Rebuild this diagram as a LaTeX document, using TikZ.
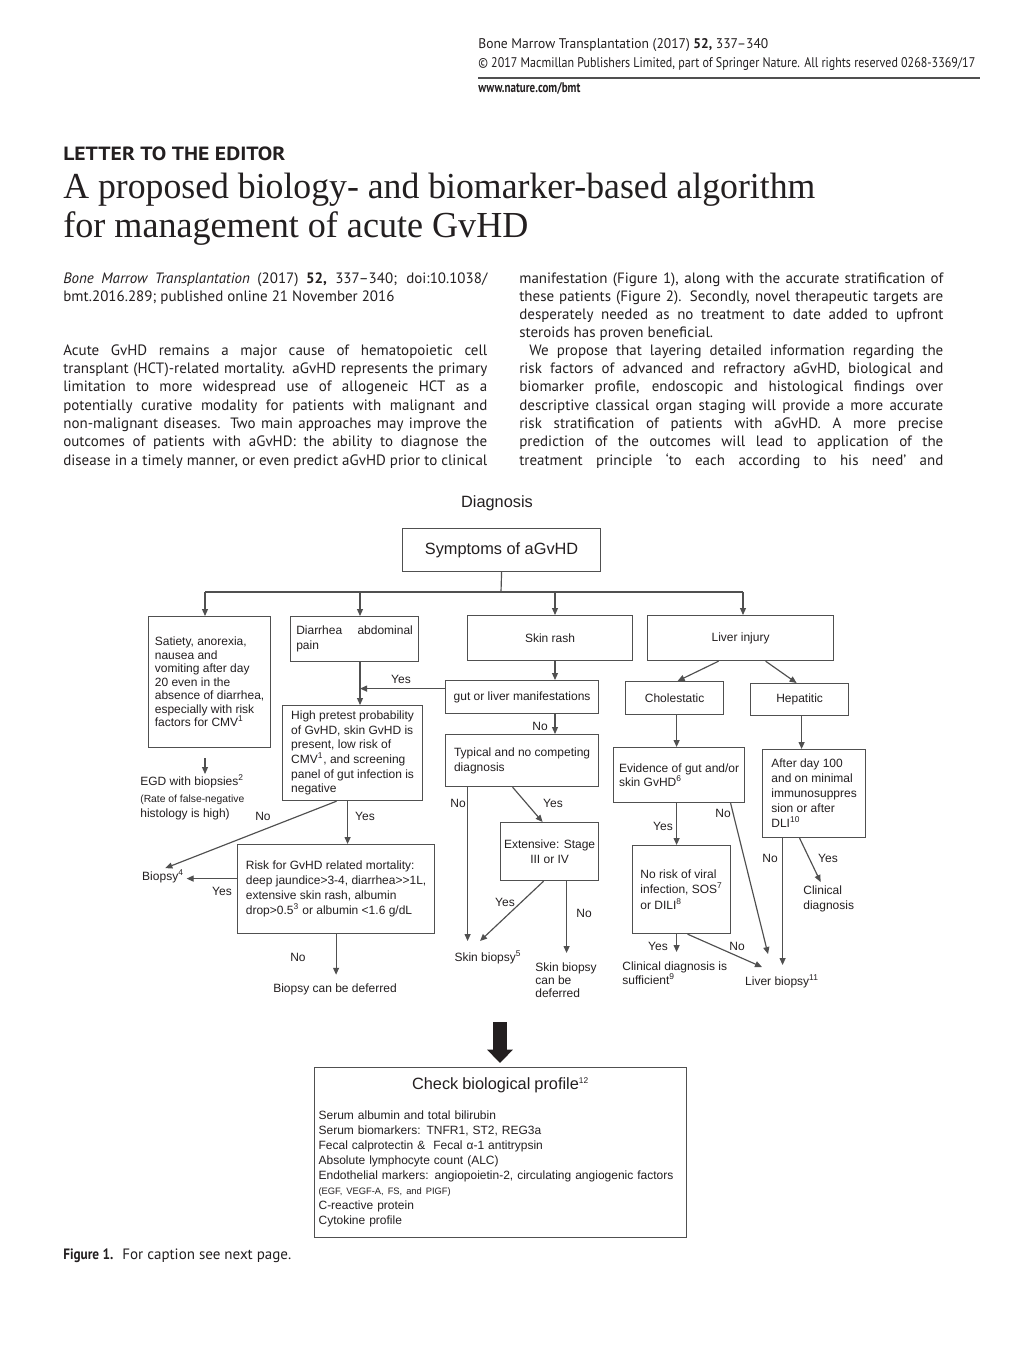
\documentclass[tikz,border=0pt]{standalone}
\usepackage{fontspec}
\setmainfont{Liberation Sans}
\newfontfamily\bodyfont{PT Sans}
\newfontfamily\serifttl{Liberation Serif}
\usepackage{graphicx}
\usetikzlibrary{arrows.meta}
\definecolor{txt}{HTML}{231F20}
\definecolor{ln}{HTML}{505050}
\newsavebox\jb
\newcommand\jline[2]{\sbox\jb{#2}\ifdim\wd\jb>#1\relax\resizebox{#1}{\height}{\usebox\jb}\else\makebox[#1][s]{#2}\fi}
\newcommand\dfont{\fontsize{7.2}{8.8}\selectfont}
\newcommand\myBox[7]{%
  \pgfmathsetlengthmacro\myBW{(#4-#2)*0.6pt}%
  \pgfmathsetlengthmacro\myBH{(#5-#3)*0.6pt}%
  \node[dbox, anchor=north west, minimum width=\myBW, minimum height=\myBH, #6] (#1) at (#2,#3) {#7};}
\newcommand\bln[4]{\node[bl] (#1) at (#2) {\jline{#3}{#4}};}
\begin{document}
\begin{tikzpicture}[x=0.6pt,y=-0.6pt,
  dbox/.style={draw=ln, line width=0.7pt, inner sep=0pt, align=left, font=\dfont, text=txt},
  tx/.style={inner sep=0pt, font=\dfont, text=txt, align=left},
  lbl/.style={inner sep=0pt, font=\dfont, text=txt},
  cn/.style={draw=ln, line width=0.7pt},
  arr/.style={cn, -{Triangle[length=4.2pt,width=3.6pt]}},
  bl/.style={anchor=mid west, inner sep=0pt, font=\bodyfont\fontsize{9}{11}\selectfont, text=txt},
  hd/.style={anchor=base west, inner sep=0pt, text=txt}]
\useasboundingbox (0,0) rectangle (1020,1355);
\fill[white] (0,0) rectangle (1020,1355);

% ---------- header ----------
\node[hd, font=\bodyfont\fontsize{8.4}{9}\selectfont] (h1) at (478,49) {\resizebox{174pt}{\height}{Bone Marrow Transplantation (2017) \textbf{52,} 337–340}};
\node[hd, font=\bodyfont\fontsize{8.4}{9}\selectfont] (h2) at (478,67) {\resizebox{298.2pt}{\height}{© 2017 Macmillan Publishers Limited, part of Springer Nature. All rights reserved 0268-3369/17}};
\draw[line width=1.4pt, color=ln] (478,78) -- (980,78);
\node[hd, font=\bodyfont\bfseries\fontsize{8.4}{9}\selectfont] (h3) at (478,92) {\resizebox{61.2pt}{\height}{www.nature.com/bmt}};

\node[hd, font=\bodyfont\bfseries\fontsize{11.5}{13}\selectfont] (lte) at (63,160) {\resizebox{133.2pt}{\height}{LETTER TO THE EDITOR}};
\node[hd, font=\serifttl\fontsize{22}{26}\selectfont] (t1) at (63,198) {\resizebox{451.2pt}{\height}{A proposed biology- and biomarker-based algorithm}};
\node[hd, font=\serifttl\fontsize{22}{26}\selectfont] (t2) at (63,237) {\resizebox{279pt}{\height}{for management of acute GvHD}};

% ---------- body text ----------
\bln{a1}{63,279}{254.4pt}{\textit{Bone Marrow Transplantation} (2017) \textbf{52,} 337–340; doi:10.1038/}
\node[bl] (a2) at (63,297) {bmt.2016.289; published online 21 November 2016};
\bln{b1}{63,351}{254.4pt}{Acute GvHD remains a major cause of hematopoietic cell}
\bln{b2}{63,369}{254.4pt}{transplant (HCT)-related mortality. aGvHD represents the primary}
\bln{b3}{63,387}{254.4pt}{limitation to more widespread use of allogeneic HCT as a}
\bln{b4}{63,406}{254.4pt}{potentially curative modality for patients with malignant and}
\bln{b5}{63,424}{254.4pt}{non-malignant diseases. Two main approaches may improve the}
\bln{b6}{63,442}{254.4pt}{outcomes of patients with aGvHD: the ability to diagnose the}
\bln{b7}{63,461}{254.4pt}{disease in a timely manner, or even predict aGvHD prior to clinical}

\bln{c1}{519,279}{254.4pt}{manifestation (Figure 1), along with the accurate stratification of}
\bln{c2}{519,297}{254.4pt}{these patients (Figure 2). Secondly, novel therapeutic targets are}
\bln{c3}{519,315}{254.4pt}{desperately needed as no treatment to date added to upfront}
\node[bl] (c4) at (519,333) {steroids has proven beneficial.};
\bln{d1t}{529,351}{248.4pt}{We propose that layering detailed information regarding the}
\bln{d2t}{519,369}{254.4pt}{risk factors of advanced and refractory aGvHD, biological and}
\bln{d3t}{519,387}{254.4pt}{biomarker profile, endoscopic and histological findings over}
\bln{d4t}{519,406}{254.4pt}{descriptive classical organ staging will provide a more accurate}
\bln{d5t}{519,424}{254.4pt}{risk stratification of patients with aGvHD. A more precise}
\bln{d6t}{519,442}{254.4pt}{prediction of the outcomes will lead to application of the}
\bln{d7t}{519,461}{254.4pt}{treatment principle ‘to each according to his need’ and}

% ---------- diagram ----------
\node[lbl, font=\fontsize{9.8}{11}\selectfont] (diag) at (497,503) {Diagnosis};
\myBox{sym}{402}{528}{600}{571}{align=center, font=\fontsize{9.8}{11}\selectfont}{Symptoms of aGvHD}

\myBox{sat}{148}{616}{270}{747}{font=\fontsize{7.2}{8.1}\selectfont}{Satiety, anorexia,\\ nausea and\\ vomiting after day\\ 20 even in the\\ absence of diarrhea,\\ especially with risk\\ factors for CMV\textsuperscript{1}}
\myBox{diar}{290}{616}{418}{661}{}{\makebox[70pt][s]{Diarrhea abdominal}\\ pain}
\myBox{skin}{467}{615}{632}{660}{align=center}{Skin rash}
\myBox{liver}{647}{615}{833}{660}{align=center}{Liver injury}

\coordinate (j) at (501,592);
\coordinate (d1) at (205,592);
\coordinate (d2) at (360,592);
\coordinate (d3) at (555,592);
\coordinate (d4) at (743,592);
\draw[cn] (sym.south) -- (j);
\draw[cn] (d1) -- (d4);
\draw[arr] (d1) -- (d1 |- sat.north);
\draw[arr] (d2) -- (d2 |- diar.north);
\draw[arr] (d3) -- (d3 |- skin.north);
\draw[arr] (d4) -- (d4 |- liver.north);

% left branch
\node[tx, anchor=north west] (egd) at (140,774) {EGD with biopsies\textsuperscript{2}\\[1.5pt] \fontsize{6.2}{8.2}\selectfont (Rate of false-negative\\ histology is high)};
\coordinate (e1) at (205,757);
\draw[arr, shorten <=6pt] (sat.south -| e1) -- (e1 |- egd.north);

\myBox{high}{282}{705}{422}{800}{}{High pretest probability\\ of GvHD, skin GvHD is\\ present, low risk of\\ CMV\textsuperscript{1}, and screening\\ panel of gut infection is\\ negative}
\myBox{gut}{445}{680}{598}{713}{align=center}{gut or liver manifestations}
\myBox{typ}{445}{734}{598}{786}{}{Typical and no competing\\ diagnosis}

\draw[arr] (diar.south -| d2) -- (d2 |- high.north);
\coordinate (gw) at ([yshift=5.1pt]gut.west);
\draw[arr] (gw) -- (gw -| d2);
\node[lbl] (yes1) at (401,679) {Yes};
\draw[arr] (skin.south -| d3) -- (d3 |- gut.north);
\draw[arr] (gut.south -| d3) -- (d3 |- typ.north);
\node[lbl] (no1) at (540,726) {No};

\myBox{risk}{237}{844}{434}{933}{font=\fontsize{7.2}{9}\selectfont}{Risk for GvHD related mortality:\\ deep jaundice>3-4, diarrhea>\kern0pt>\kern0pt1L,\\ extensive skin rash, albumin\\ drop>0.5\textsuperscript{3} or albumin <1.6 g/dL}
\node[lbl] (bio) at (163,876) {Biopsy\textsuperscript{4}};
\node[lbl] (bdef) at (335,989) {Biopsy can be deferred};

\draw[arr, shorten >=1.5pt] ([xshift=-9.6pt]high.south) -- (bio.north);
\node[lbl] (no2) at (263,816) {No};
\coordinate (hs) at ([xshift=-3pt]high.south);
\draw[arr] (hs) -- (hs |- risk.north);
\node[lbl] (yes2) at (365,816) {Yes};
\coordinate (rw) at ([yshift=6.3pt]risk.west);
\draw[arr, shorten >=1.5pt] (rw) -- (rw -| bio.east);
\node[lbl] (yes3) at (222,891) {Yes};
\draw[arr, shorten >=5pt] (risk.south) -- (risk.south |- bdef.north);
\node[lbl] (no3) at (298,957) {No};

% skin branch
\myBox{ext}{500}{822}{598}{880}{align=center}{Extensive: Stage\\ III or IV}
\node[lbl] (skb) at (488,957) {Skin biopsy\textsuperscript{5}};
\node[tx, anchor=north west, font=\fontsize{7.2}{7.8}\selectfont] (sbd) at (535,962) {Skin biopsy\\ can be\\ deferred};

\coordinate (tn) at ([xshift=-32.7pt]typ.south);
\draw[arr, shorten >=5.4pt] (tn) -- (tn |- skb.north);
\node[lbl] (no4) at (458,803) {No};
\draw[arr] ([xshift=-5.7pt]typ.south) -- ([xshift=-4.2pt]ext.north);
\node[lbl] (yes4) at (553,803) {Yes};
\draw[arr] ([xshift=-3.6pt]ext.south) -- ([xshift=-4.8pt,yshift=5.4pt]skb.north);
\node[lbl] (yes5) at (505,902) {Yes};
\coordinate (en) at ([xshift=10.2pt]ext.south);
\draw[arr, shorten >=5.4pt] (en) -- (en |- sbd.north);
\node[lbl] (no5) at (584,913) {No};

% liver branch
\myBox{chol}{625}{681}{723}{714}{align=center}{Cholestatic}
\myBox{hep}{750}{683}{848}{715}{align=center}{Hepatitic}
\myBox{evid}{613}{747}{744}{802}{}{Evidence of gut and/or\\ skin GvHD\textsuperscript{6}}
\myBox{after}{762}{749}{865}{837}{font=\fontsize{7.2}{9}\selectfont}{After day 100\\ and on minimal\\ immunosuppres\\ sion or after\\ DLI\textsuperscript{10}}
\myBox{nr}{632}{845}{730}{933}{font=\fontsize{7.2}{9.2}\selectfont}{No risk of viral\\ infection, SOS\textsuperscript{7}\\ or DILI\textsuperscript{8}}

\draw[arr] ([xshift=-13.2pt]liver.south) -- ([xshift=1.8pt]chol.north);
\draw[arr] ([xshift=15pt]liver.south) -- ([xshift=-1.8pt]hep.north);
\coordinate (cs) at ([xshift=1.2pt]chol.south);
\draw[arr] (cs) -- (cs |- evid.north);
\coordinate (hps) at ([xshift=1.2pt]hep.south);
\draw[arr] (hps) -- (hps |- after.north);

\node[tx, anchor=north west, font=\fontsize{7.2}{8.4}\selectfont] (cds) at (622,961) {Clinical diagnosis is\\ sufficient\textsuperscript{9}};
\node[lbl] (lb) at (782,981) {Liver biopsy\textsuperscript{11}};
\node[tx, anchor=north west, font=\fontsize{7.2}{9}\selectfont] (cd2) at (803,885) {Clinical\\ diagnosis};

\coordinate (ev) at ([xshift=-1.5pt]evid.south);
\draw[arr] (ev) -- (ev |- nr.north);
\node[lbl] (yes6) at (663,826) {Yes};
\draw[arr] ([xshift=30.9pt]evid.south) -- ([xshift=-8.4pt,yshift=12pt]lb.north);
\node[lbl] (no6) at (723,813) {No};
\coordinate (nrs) at ([xshift=-3pt]nr.south);
\draw[arr, shorten >=5.4pt] (nrs) -- (nrs |- cds.north);
\node[lbl] (yes7) at (658,946) {Yes};
\draw[arr] ([xshift=3.6pt]nr.south) -- ([xshift=-12pt,yshift=4.2pt]lb.north);
\node[lbl] (no7) at (737,946) {No};
\coordinate (as) at ([xshift=-18.9pt]after.south);
\draw[arr, shorten >=5.4pt] (as) -- (as |- lb.north);
\node[lbl] (no8) at (770,858) {No};
\draw[arr, shorten >=2pt] ([xshift=-8.7pt]after.south) -- ([xshift=-4pt]cd2.north);
\node[lbl] (yes8) at (828,858) {Yes};

% biological profile
\node[dbox, anchor=north west, minimum width=223.2pt, minimum height=102pt, text width=218.4pt, inner xsep=2.4pt, font=\fontsize{7.2}{9}\selectfont] (check) at (314,1067) {%
\makebox[\linewidth][c]{\fontsize{9.8}{11}\selectfont Check biological profile\textsuperscript{\fontsize{5}{5}\selectfont 12}}\\[9pt]
Serum albumin and total bilirubin\\
Serum biomarkers: TNFR1, ST2, REG3a\\
Fecal calprotectin \&\ \ Fecal α-1 antitrypsin\\
Absolute lymphocyte count (ALC)\\
Endothelial markers: angiopoietin-2, circulating angiogenic factors\\
{\fontsize{5.6}{9}\selectfont (EGF, VEGF-A, FS, and PIGF)}\\
C-reactive protein\\
Cytokine profile};
\coordinate (bt) at (500,1022);
\draw[line width=8.4pt, color=txt, -{Triangle[length=8pt,width=15pt]}, shorten >=2.4pt] (bt) -- (check.north -| bt);

% caption
\node[hd, font=\bodyfont\bfseries\fontsize{9}{11}\selectfont] (fig) at (63,1259) {\resizebox{30pt}{\height}{Figure 1.}};
\node[hd, font=\bodyfont\fontsize{9}{11}\selectfont] (cap) at (122,1259) {\resizebox{101.4pt}{\height}{For caption see next page.}};
\end{tikzpicture}
\end{document}
